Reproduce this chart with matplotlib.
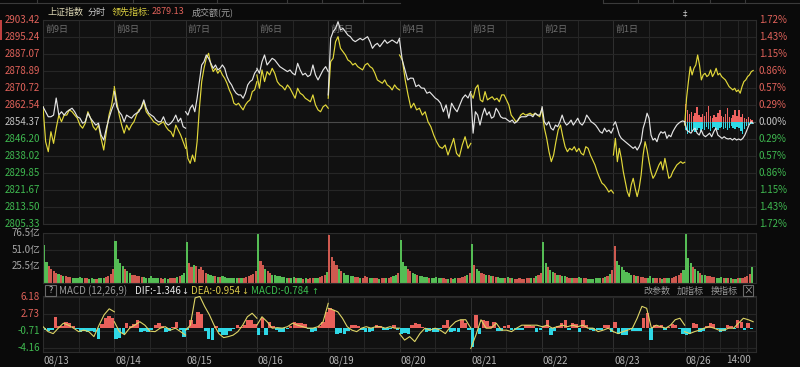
import numpy as np
import matplotlib.pyplot as plt
from matplotlib.patches import Rectangle
from matplotlib.lines import Line2D

plt.rcParams['font.family'] = ['Noto Sans CJK SC', 'DejaVu Sans']

# ---------------- values ----------------
prev_close = 2854.37
price_ticks = [2903.42, 2895.24, 2887.07, 2878.89, 2870.72, 2862.54, 2854.37,
               2846.20, 2838.02, 2829.85, 2821.67, 2813.50, 2805.33]
pct_ticks = ['1.72%', '1.43%', '1.15%', '0.86%', '0.57%', '0.29%', '0.00%',
             '0.29%', '0.57%', '0.86%', '1.15%', '1.43%', '1.72%']
day_tags = ['前9日', '前8日', '前7日', '前6日', '前5日', '前4日', '前3日', '前2日', '前1日']
dates = ['08/13', '08/14', '08/15', '08/16', '08/19', '08/20', '08/21', '08/22', '08/23', '08/26']
today_frac = 0.96   # today's session is not over yet
lead_last = '2879.13'

# 上证指数 (white line), one list per trading day
index_by_day = [
    [2861.7, 2859.3, 2856.9, 2856.9, 2857.7, 2865.9, 2857.7, 2859.3, 2857.7, 2859.3, 2860.2, 2861.0, 2859.3, 2856.9,
     2856.2, 2853.8, 2854.5, 2858.6, 2856.2, 2854.5, 2852.9, 2853.8, 2848.1, 2845.7, 2851.4, 2856.2, 2860.2, 2863.4],
    [2869.0, 2861.7, 2859.3, 2857.7, 2854.5, 2857.7, 2856.9, 2856.2, 2857.7, 2858.6, 2859.3, 2861.7, 2865.0, 2861.0,
     2858.6, 2857.7, 2856.9, 2855.3, 2854.5, 2854.5, 2856.9, 2853.8, 2852.9, 2853.8, 2855.3, 2857.7, 2854.5, 2856.2,
     2852.1, 2851.4],
    [2859.3, 2857.7, 2861.0, 2862.6, 2859.3, 2865.8, 2873.8, 2881.8, 2883.4, 2886.6, 2885.0, 2882.6, 2880.2, 2881.8,
     2879.4, 2880.2, 2881.8, 2880.2, 2876.2, 2873.8, 2872.2, 2869.8, 2868.2, 2867.4, 2867.4, 2865.8, 2868.2, 2872.2,
     2873.8, 2874.6, 2877.8, 2879.4],
    [2880.2, 2877.8, 2883.4, 2886.6, 2881.8, 2883.4, 2885.0, 2884.2, 2882.6, 2881.0, 2880.2, 2879.4, 2878.6, 2879.4,
     2877.8, 2877.0, 2882.6, 2879.4, 2877.0, 2877.8, 2876.2, 2877.0, 2881.8, 2877.0, 2874.6, 2877.0, 2879.4, 2881.0,
     2878.6],
    [2867.4, 2894.6, 2897.8, 2899.4, 2902.6, 2898.6, 2899.4, 2897.8, 2896.2, 2895.4, 2893.8, 2893.0, 2893.8, 2894.6,
     2893.8, 2894.6, 2895.4, 2893.0, 2889.8, 2891.4, 2892.2, 2890.6, 2892.2, 2893.8, 2892.2, 2893.0, 2893.8, 2893.0,
     2892.2, 2894.6],
    [2893.8, 2884.2, 2879.4, 2874.6, 2875.5, 2875.4, 2871.4, 2872.2, 2870.7, 2870.6, 2868.2, 2868.8, 2867.4, 2865.9,
     2865.0, 2863.4, 2859.3, 2862.6, 2856.2, 2863.4, 2861.0, 2859.3, 2862.6, 2865.8, 2867.4, 2865.9, 2869.0],
    [2867.4, 2849.0, 2859.3, 2857.7, 2852.9, 2857.7, 2861.0, 2857.7, 2859.3, 2856.2, 2856.9, 2861.0, 2859.3, 2856.9,
     2856.2, 2856.2, 2855.3, 2854.5, 2855.3, 2853.8, 2854.5, 2856.2, 2856.9, 2856.9, 2856.9, 2857.7, 2857.7, 2856.9,
     2858.6, 2857.7, 2857.7, 2861.0],
    [2861.7, 2854.5, 2852.9, 2854.5, 2851.4, 2850.5, 2852.9, 2852.1, 2854.5, 2857.7, 2854.5, 2852.9, 2853.8, 2855.3,
     2852.9, 2854.5, 2856.2, 2853.8, 2852.9, 2854.5, 2857.7, 2856.2, 2854.5, 2853.8, 2852.9, 2851.4, 2849.7, 2849.0,
     2851.4, 2849.7, 2850.5, 2849.0, 2851.4],
    [2852.9, 2854.5, 2851.4, 2848.1, 2846.5, 2845.7, 2844.9, 2844.1, 2843.3, 2842.5, 2841.7, 2842.5, 2840.9, 2842.5,
     2844.9, 2851.4, 2854.5, 2858.6, 2856.2, 2848.1, 2845.7, 2846.5, 2844.9, 2848.1, 2849.7, 2849.0, 2849.7, 2846.5,
     2848.1, 2847.3, 2849.7, 2851.4, 2852.9, 2853.8, 2854.5, 2854.9, 2854.5],
    [2854.5, 2850.5, 2849.7, 2849.0, 2850.5, 2851.4, 2849.0, 2848.1, 2850.5, 2848.1, 2847.3, 2848.1, 2849.0, 2847.3,
     2849.7, 2851.4, 2848.1, 2847.3, 2846.5, 2847.3, 2846.5, 2846.2, 2846.5, 2845.7, 2846.5, 2845.7, 2846.2, 2845.7,
     2846.5, 2848.1, 2850.5, 2852.9, 2854.5, 2853.8],
]

# 领先指标 (yellow line)
lead_by_day = [
    [2861.7, 2844.9, 2840.1, 2849.7, 2844.1, 2851.4, 2857.7, 2854.5, 2857.7, 2857.7, 2860.2, 2859.3, 2857.7, 2856.2,
     2852.9, 2851.4, 2853.8, 2859.3, 2856.2, 2852.1, 2850.5, 2852.9, 2846.5, 2840.9, 2849.7, 2857.7, 2862.6, 2870.6],
    [2871.4, 2864.1, 2857.7, 2852.9, 2849.0, 2852.9, 2850.5, 2852.9, 2854.5, 2857.7, 2860.2, 2861.0, 2864.1, 2859.3,
     2857.7, 2856.2, 2854.5, 2853.8, 2852.9, 2853.8, 2854.5, 2852.1, 2850.5, 2849.7, 2847.3, 2852.9, 2850.5, 2848.1,
     2844.9, 2841.7],
    [2846.5, 2836.9, 2834.5, 2838.5, 2835.3, 2844.9, 2861.0, 2873.8, 2880.2, 2885.0, 2887.4, 2881.8, 2878.6, 2880.2,
     2877.8, 2879.4, 2877.0, 2875.4, 2873.0, 2869.8, 2867.4, 2863.4, 2862.6, 2863.4, 2861.7, 2860.2, 2862.6, 2864.1,
     2865.0, 2869.0, 2869.8, 2873.8],
    [2877.0, 2870.6, 2879.4, 2873.8, 2878.6, 2877.0, 2880.2, 2877.8, 2873.8, 2872.2, 2871.4, 2869.8, 2872.2, 2870.6,
     2868.2, 2865.8, 2870.6, 2868.2, 2867.4, 2865.8, 2865.0, 2864.1, 2867.4, 2862.6, 2860.2, 2859.3, 2861.7, 2862.6,
     2861.0],
    [2865.8, 2883.4, 2885.0, 2893.0, 2895.4, 2889.8, 2888.2, 2886.6, 2884.2, 2883.4, 2881.8, 2882.6, 2881.0, 2880.2,
     2879.4, 2881.8, 2882.6, 2881.0, 2880.2, 2877.8, 2874.6, 2873.8, 2873.0, 2874.6, 2872.2, 2871.4, 2869.8, 2872.2,
     2870.6, 2869.8],
    [2886.6, 2884.2, 2874.6, 2867.4, 2861.1, 2863.4, 2860.2, 2861.0, 2857.7, 2859.3, 2854.5, 2852.1, 2848.1, 2844.9,
     2842.5, 2841.7, 2843.3, 2838.5, 2842.5, 2846.5, 2839.3, 2837.7, 2843.3, 2847.3, 2841.7, 2844.1],
    [2868.2, 2865.8, 2870.6, 2872.2, 2865.0, 2864.1, 2869.0, 2865.0, 2865.8, 2866.5, 2865.0, 2865.8, 2864.1, 2867.4,
     2867.4, 2865.0, 2862.6, 2857.7, 2856.2, 2854.5, 2855.3, 2857.7, 2858.6, 2857.7, 2858.1, 2858.6, 2857.7, 2858.6,
     2857.7, 2856.9, 2861.0],
    [2859.3, 2851.4, 2846.5, 2840.1, 2835.3, 2838.5, 2844.9, 2850.5, 2852.9, 2847.3, 2842.5, 2840.1, 2841.7, 2840.9,
     2842.5, 2840.1, 2841.7, 2839.3, 2838.5, 2842.5, 2841.7, 2838.5, 2836.1, 2833.7, 2830.3, 2827.5, 2825.0, 2824.1,
     2822.6, 2820.7, 2821.7, 2820.2],
    [2838.5, 2846.5, 2835.3, 2841.7, 2836.9, 2830.5, 2825.7, 2820.9, 2818.5, 2824.1, 2827.3, 2822.5, 2818.5, 2822.5,
     2828.9, 2838.5, 2844.9, 2840.9, 2835.3, 2830.5, 2827.3, 2828.9, 2831.3, 2833.7, 2835.3, 2831.3, 2836.9, 2832.1,
     2827.3, 2828.1, 2830.5, 2832.1, 2833.7, 2834.5, 2835.3, 2834.5, 2835.0],
    [2852.9, 2865.8, 2873.8, 2881.0, 2877.0, 2880.2, 2881.8, 2886.6, 2881.8, 2874.6, 2877.0, 2877.8, 2876.2, 2877.0,
     2879.4, 2876.2, 2877.8, 2880.2, 2877.0, 2877.8, 2876.2, 2875.4, 2874.6, 2873.0, 2871.4, 2870.6, 2869.8, 2870.6,
     2869.0, 2869.8, 2868.2, 2871.4, 2873.8, 2874.6, 2876.2, 2877.0, 2878.6, 2879.13],
]

# today's buy / sell strength bars around the previous close (index points)
strength_up = [8.5, 6.0, 4.0, 5.0, 3.0, 4.5, 7.0, 3.5, 2.5, 4.0, 3.0, 5.0, 7.5, 3.0, 2.0, 3.5, 2.5, 4.5,
               6.0, 3.0, 2.5, 4.0, 6.5, 2.5, 2.0, 3.5, 6.0, 3.0, 6.0, 2.5, 4.0, 2.0, 1.5, 2.5, 1.5, 1.0]
strength_down = [4.0, 6.0, 5.0, 4.5, 3.5, 5.0, 4.0, 3.0, 4.5, 3.5, 4.0, 2.5, 3.5, 4.5, 3.0, 2.5, 3.5, 4.0,
                 3.0, 2.5, 3.5, 3.0, 4.0, 3.0, 2.0, 3.0, 3.5, 2.5, 3.0, 4.5, 6.0, 3.5, 2.0, 1.5, 1.0, 1.0]

# turnover, 亿元 per bar
vol_ticks = [76.5, 51.0, 25.5]
volume_by_day = [
    [58, 32, 26, 22, 18, 16, 14, 12, 11, 10, 9, 9, 8, 8, 7, 9, 8, 7, 7, 6, 7, 6, 6, 7, 7, 8, 9, 11, 14, 22],
    [65, 36, 30, 26, 22, 18, 15, 13, 12, 11, 10, 9, 9, 8, 8, 10, 8, 7, 7, 7, 6, 7, 6, 7, 8, 8, 9, 10, 12, 16],
    [62, 30, 24, 28, 26, 22, 24, 20, 16, 14, 12, 11, 10, 9, 9, 10, 9, 8, 8, 7, 8, 7, 7, 8, 8, 9, 10, 12, 14, 18],
    [75, 34, 28, 22, 18, 15, 13, 12, 11, 10, 9, 9, 8, 8, 7, 9, 8, 7, 7, 6, 7, 6, 7, 7, 8, 8, 9, 11, 13, 17],
    [74, 40, 34, 28, 22, 18, 15, 13, 12, 11, 10, 9, 9, 8, 8, 10, 9, 8, 7, 7, 7, 6, 7, 7, 8, 8, 9, 10, 12, 15],
    [66, 32, 26, 22, 19, 16, 14, 12, 11, 10, 9, 9, 8, 8, 7, 9, 8, 7, 7, 6, 6, 7, 6, 7, 7, 8, 9, 10, 12, 16],
    [60, 28, 22, 18, 16, 14, 13, 12, 11, 10, 9, 9, 8, 8, 7, 9, 8, 7, 6, 6, 7, 6, 6, 7, 7, 8, 8, 10, 12, 15],
    [62, 30, 24, 20, 17, 15, 13, 12, 11, 10, 9, 8, 8, 8, 7, 9, 8, 7, 7, 6, 6, 6, 7, 7, 8, 8, 9, 11, 14, 20],
    [57, 34, 28, 24, 20, 17, 15, 13, 12, 11, 10, 9, 9, 8, 8, 10, 8, 7, 7, 7, 6, 7, 7, 8, 8, 9, 10, 12, 15, 20],
    [76, 38, 30, 25, 21, 18, 15, 13, 12, 11, 10, 9, 9, 8, 8, 9, 8, 7, 7, 7, 6, 6, 7, 7, 8, 9, 10, 14, 24],
]

# MACD (12,26,9)
macd_ticks = [6.18, 2.73, -0.71, -4.16]
macd_hist_by_day = [
    [-0.5, -0.6, -0.4, 2.2, 0.3, 0.4, 1.2, 1.0, 0.3, -0.3, -0.8, -0.7, -0.8, -0.6, -0.8, -2.2, 0.8, 1.9, 2.4, 2.0],
    [-2.2, -2.0, -1.2, 0.9, 0.4, 0.8, 1.6, -0.8, -0.7, -0.8, -0.4, 0.6, 0.9, 0.3, -0.8, -0.7, 0.2, 1.2, -0.5, -1.8],
    [-0.4, 1.6, 0.8, 3.2, 2.8, -0.6, -2.2, -2.4, 0.3, -0.8, -1.5, -1.4, -0.6, -0.3, 0.5, 0.2, 0.6, 1.6, 1.5, 0.8],
    [-1.5, 1.9, -1.5, 1.2, 0.3, -0.5, -0.8, -0.8, -0.3, 0.4, 1.2, 1.0, 0.9, 0.8, -0.2, -0.8, -0.6, 0.3, 1.2, 3.2],
    [3.9, 3.5, -1.2, -1.0, -1.2, -0.6, 0.5, 0.6, 0.3, -0.4, -0.8, -0.8, -0.6, 0.5, 0.4, -0.5, -0.5, -0.3, 0.5, -0.4],
    [-1.2, -1.0, -1.2, 0.6, 0.9, 0.8, 0.2, -0.8, -0.7, -0.8, -0.8, -0.3, 0.5, 1.6, -0.8, -0.7, -0.8, 1.6, 1.0, -0.5],
    [-3.9, 2.6, -1.2, 1.6, 1.4, 0.4, 1.2, -0.7, -0.6, 0.3, 0.5, -0.5, -0.5, -0.4, -0.5, 0.5, 0.5, 0.4, -0.8, -0.4],
    [0.3, 1.6, -1.5, -0.6, 0.4, 1.0, 1.6, -0.5, 0.9, 0.8, -0.8, 1.6, 0.6, -0.5, -0.6, -0.5, -0.4, 0.5, 0.5, -0.8],
    [1.2, -1.2, -1.5, -1.4, -0.3, -0.7, -0.7, -0.6, 2.0, 2.9, -2.5, 0.5, 0.4, 0.5, -0.5, 0.2, 0.7, 0.6, -0.3, -1.2],
    [-1.5, -1.2, 0.9, 0.7, -0.8, -0.7, 0.3, 0.9, 0.8, -0.3, -0.8, -0.7, 0.5, 0.3, -0.2, 1.6, 1.2, -0.5, 0.9, -0.2],
]
dea_by_day = [
    [0.2, -0.8, -1.2, -0.1, 0.9, 0.5, -0.1, -0.8, -0.5, -0.8, -1.8, 0.5, 2.6, 3.8, 3.2],
    [1.2, -0.8, -1.4, -0.1, 0.5, 1.2, 0.5, -0.7, -0.8, -0.1, 0.2, -0.5, -0.1, -0.8, -1.5],
    [-0.5, 0.5, 6.0, 6.3, 4.3, 2.6, 0.5, -1.2, -2.0, -1.8, -1.5, -0.8, 0.5, 2.2, 2.9, 1.9],
    [0.5, 2.2, 1.2, -0.1, 0.0, -0.1, 0.2, 0.9, 0.5, 0.2, -0.1, -0.1, 0.2, 1.2, 4.9],
    [3.9, 3.6, 3.2, 1.9, 0.2, -0.5, -0.8, -0.1, 0.2, -0.1, 0.2, 0.2, -0.1, 0.2, -0.1, -0.1],
    [-1.2, -2.5, -1.8, -2.8, -1.2, -0.1, -0.5, -0.1, -0.5, -1.2, 0.2, 1.2, 1.6, 1.6, -0.1],
    [-4.2, -1.5, 1.6, -0.1, -0.1, 0.9, -0.5, -0.5, -0.8, -0.1, 0.5, 0.5, 0.5, 0.5, 0.2],
    [0.2, 0.5, -0.1, 0.2, 0.5, 0.2, 0.5, 0.2, 0.5, -0.1, -0.1, -0.8, -0.5, -0.1, -0.8],
    [-0.8, -1.2, -0.8, -0.5, -0.1, 1.9, 4.3, 3.9, -0.1, 0.5, 0.2, -0.1, 0.5, 1.6, 1.9, 0.5],
    [-0.8, -1.2, -0.8, -0.5, -0.1, 0.2, -0.1, -0.5, -0.5, -0.1, -0.1, 0.9, 1.9, 1.6, 1.2],
]
macd_header = [('DIF:-1.346', '↓', '#e6e6e6', 135, 181),
               ('DEA:-0.954', '↓', '#d8c84a', 191, 241),
               ('MACD:-0.784', '↑', '#3cc050', 251, 311)]

# ---------------- style ----------------
BG = '#0a0a0a'
PANEL = '#111111'
GRID = '#262626'
RED = '#e0625a'
GREEN = '#3fb950'
NEUTRAL = '#c4c4c4'
LABEL = '#a8a8a8'
WHITE_LINE = '#e4e4e4'
YELLOW_LINE = '#e2d83a'

W, H = 800, 367
fig = plt.figure(figsize=(W / 100, H / 100), dpi=100, facecolor=BG)


def panel(x0, y0, x1, y1):
    a = fig.add_axes([x0 / W, 1 - y1 / H, (x1 - x0) / W, (y1 - y0) / H])
    a.set_facecolor(PANEL)
    a.set_xlim(0, 10)
    a.set_xticks([])
    a.set_yticks([])
    for s in a.spines.values():
        s.set_color('#2c2c2c')
        s.set_linewidth(0.8)
    for k in range(1, 20):
        a.axvline(k / 2, color=GRID if k % 2 else '#303030', lw=0.7, zorder=0)
    for k in (9.25, 9.75, 9.875):
        a.axvline(k, color=GRID, lw=0.7, zorder=0)
    return a


def span_of(d):
    return today_frac if d == 9 else 1.0


def day_times(d, n):
    return np.linspace(d, d + span_of(d), n)


def bar_times(d, n):
    step = span_of(d) / n
    return d + (np.arange(n) + 0.5) * step, step


def sign_color(v, ref):
    if v > ref + 1e-6:
        return RED
    if v < ref - 1e-6:
        return GREEN
    return NEUTRAL


# ---------------- price panel ----------------
ax = panel(43, 20, 756, 224)
ax.set_ylim(price_ticks[-1], price_ticks[0])
for v in price_ticks:
    ax.axhline(v, color='#4a4a4a' if v == prev_close else GRID, lw=0.8, zorder=0)

ytr = ax.get_yaxis_transform()
for v, p in zip(price_ticks, pct_ticks):
    c = sign_color(v, prev_close)
    ax.text(-0.004, v, f'{v:.2f}', transform=ytr, ha='right', va='center', fontsize=7, color=c)
    ax.text(1.004, v, p, transform=ytr, ha='left', va='center', fontsize=7, color=c)

xtr = ax.get_xaxis_transform()
for d, tag in enumerate(day_tags):
    ax.text(d + 0.03, 0.955, tag, transform=xtr, ha='left', va='center', fontsize=6.5, color='#6e6e6e')

# today's strength bars
xs, step = bar_times(9, len(strength_up))
ax.bar(xs, strength_up, bottom=prev_close, width=step * 0.75, color='#f0625f', zorder=2)
xs, step = bar_times(9, len(strength_down))
ax.bar(xs, [-v for v in strength_down], bottom=prev_close, width=step * 0.75, color='#2fd8e6', zorder=2)

t_index, p_index = [], []
for d in range(10):
    tl = day_times(d, len(lead_by_day[d]))
    ax.plot(tl, lead_by_day[d], color=YELLOW_LINE, lw=0.85, zorder=3)
    ti = day_times(d, len(index_by_day[d]))
    ax.plot(ti, index_by_day[d], color=WHITE_LINE, lw=0.85, zorder=4)
    t_index.extend(ti)
    p_index.extend(index_by_day[d])
t_index = np.array(t_index)
p_index = np.array(p_index)

ax.text(9.0, 1.005, '‡', transform=xtr, ha='center', va='bottom', fontsize=6, color='#d0d0d0')

# ---------------- volume panel ----------------
axv = panel(43, 233, 756, 283)
axv.set_ylim(0, vol_ticks[0])
for v in vol_ticks:
    axv.axhline(v, color=GRID, lw=0.8, zorder=0)
    axv.text(-0.004, v, f'{v:.1f}亿', transform=axv.get_yaxis_transform(), ha='right', va='center',
             fontsize=7, color=LABEL)
for d in range(10):
    vols = volume_by_day[d]
    xs, step = bar_times(d, len(vols))
    idx = np.clip(np.searchsorted(t_index, xs), 1, len(t_index) - 1)
    cols = ['#cf5a50' if p_index[i] >= p_index[i - 1] else '#55bd55' for i in idx]
    axv.bar(xs, vols, width=step * 0.9, color=cols, zorder=2)

# ---------------- MACD panel ----------------
axm = panel(43, 296, 756, 352)
axm.set_ylim(-4.9, 6.38)
for v in macd_ticks:
    axm.axhline(v, color=GRID, lw=0.8, zorder=0)
    axm.text(-0.004, v, f'{v:.2f}', transform=axm.get_yaxis_transform(), ha='right', va='center',
             fontsize=7, color=RED if v > 0 else GREEN)
for d in range(10):
    h = macd_hist_by_day[d]
    xs, step = bar_times(d, len(h))
    axm.bar(xs, h, width=step * 0.95, color=['#e8605a' if v > 0 else '#2fd8e6' for v in h], zorder=2)
    axm.plot(day_times(d, len(dea_by_day[d])), dea_by_day[d], color='#ddd466', lw=0.8, zorder=3)

mtr = axm.get_xaxis_transform()
for d, lbl in enumerate(dates):
    axm.text(d + 0.01, -0.15, lbl, transform=mtr, ha='left', va='center', fontsize=7, color='#b4b4b4')
axm.text(9.75, -0.15, '14:00', transform=mtr, ha='center', va='center', fontsize=7, color='#b4b4b4')


# ---------------- header texts ----------------
def fx(px):
    return px / W


def fy(py):
    return 1 - py / H


fig.text(fx(47), fy(12), '上证指数', fontsize=6.5, color='#dcd6b4', va='center')
fig.text(fx(88), fy(12), '分时', fontsize=6.5, color='#c8c8c8', va='center')
fig.text(fx(112), fy(12), '领先指标:', fontsize=6.5, color='#dcd040', va='center')
fig.text(fx(152), fy(12), lead_last, fontsize=6.5, color=RED, va='center')
fig.text(fx(192), fy(12), '成交额(元)', fontsize=6.5, color='#a0a0a0', va='center')

fig.patches.append(Rectangle((fx(45), fy(296)), 11 / W, 11 / H, transform=fig.transFigure,
                             fill=False, edgecolor='#6a6a6a', lw=0.8))
fig.text(fx(50.5), fy(290.5), '?', fontsize=6.5, color='#c0c0c0', ha='center', va='center')
fig.text(fx(59), fy(291), 'MACD (12,26,9)', fontsize=7, color='#9a9a9a', va='center')
for txt, arrow, col, x0, xa in macd_header:
    fig.text(fx(x0), fy(291), txt, fontsize=7, color=col, va='center')
    fig.text(fx(xa), fy(291), arrow, fontsize=6, color=col, va='center', family='DejaVu Sans')
for x0, t in ((643, '改参数'), (677, '加指标'), (711, '换指标')):
    fig.text(fx(x0), fy(291), t, fontsize=6.5, color='#9a9a9a', va='center')
fig.patches.append(Rectangle((fx(743), fy(296)), 10 / W, 11 / H, transform=fig.transFigure,
                             fill=False, edgecolor='#6a6a6a', lw=0.8))
fig.text(fx(748), fy(290.5), '×', fontsize=7, color='#a0a0a0', ha='center', va='center')

# tab strip at the very top
for a, b in ((0, 400), (603, 800)):
    fig.lines.append(Line2D([fx(a), fx(b)], [fy(3), fy(3)], transform=fig.transFigure,
                            color='#3a3a3a', lw=0.8))
for x0 in (37, 133, 217, 287, 322, 363, 603, 638, 673, 710, 745):
    fig.lines.append(Line2D([fx(x0), fx(x0)], [fy(0), fy(3)], transform=fig.transFigure,
                            color='#3a3a3a', lw=0.8))
fig.patches.append(Rectangle((0, fy(40)), 1.5 / W, 20 / H, transform=fig.transFigure,
                             color='#c04040', lw=0))

fig.savefig('out.png', dpi=100, facecolor=BG)
